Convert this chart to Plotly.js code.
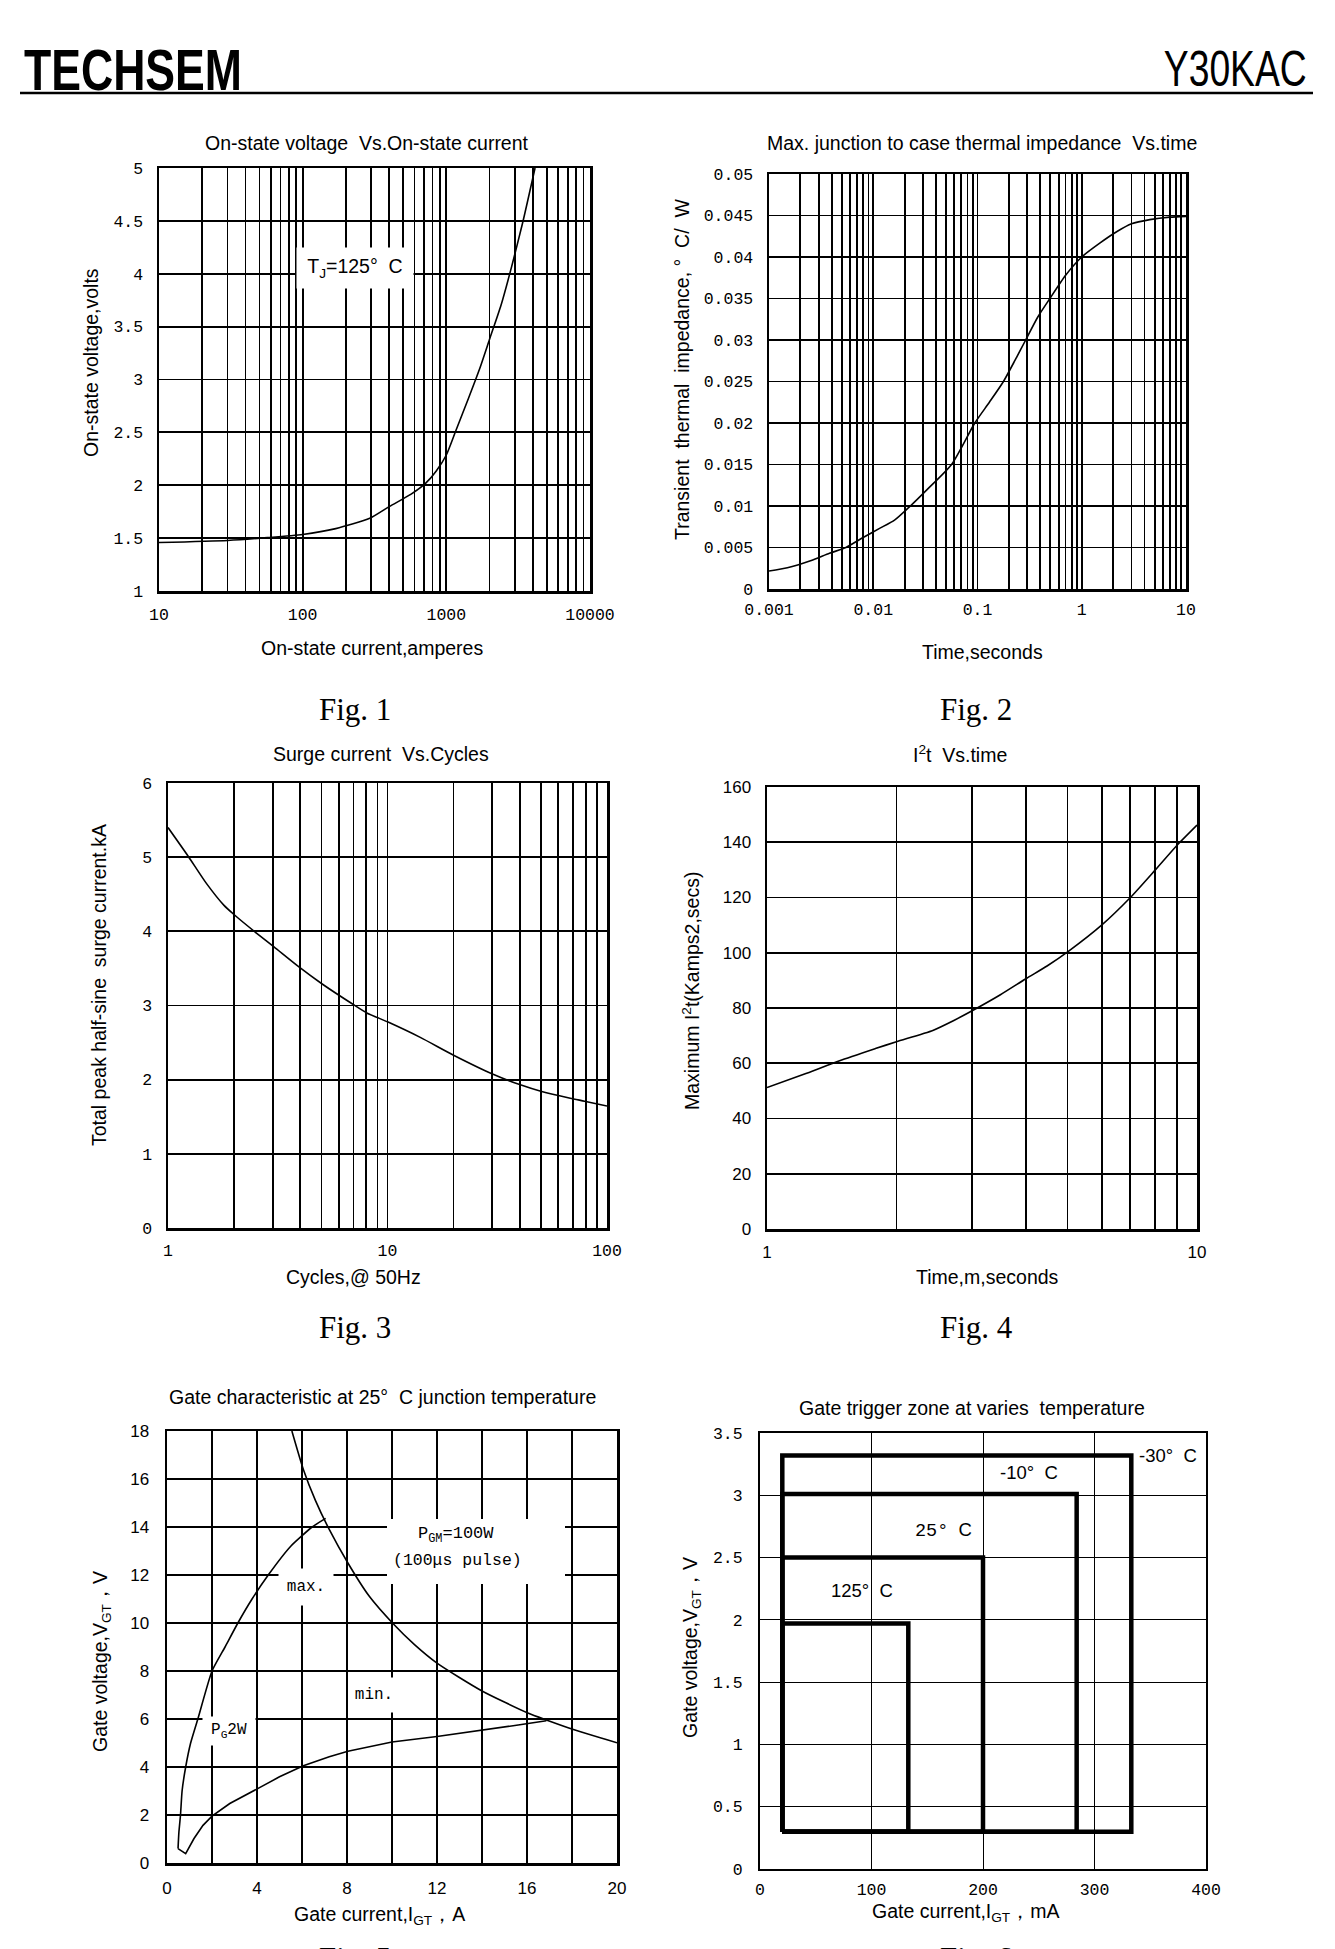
<!DOCTYPE html>
<html>
<head>
<meta charset="utf-8">
<script src="https://cdn.plot.ly/plotly-3.0.1.min.js"></script>
<style>html,body{margin:0;padding:0;background:#fff;}#chart{width:1335px;height:1949px;}</style>
</head>
<body>
<div id="chart"></div>
<script>
// ---------------- DATA ----------------
// Fig.1 On-state voltage vs on-state current (Tj=125 C)
const onStateCurrent = [10, 30, 57, 100, 170, 293, 403, 569, 716, 851, 1000, 1168, 1429, 1698, 2018, 2399, 2851, 3388, 4144];
const onStateVoltage = [1.458, 1.478, 1.505, 1.535, 1.59, 1.687, 1.80, 1.916, 2.017, 2.135, 2.286, 2.52, 2.825, 3.094, 3.397, 3.70, 4.07, 4.475, 5.0];
const fig1XTicks = [10, 100, 1000, 10000];
const fig1XLabels = ['10', '100', '1000', '10000'];
const fig1YTicks = [1, 1.5, 2, 2.5, 3, 3.5, 4, 4.5, 5];
const fig1YLabels = ['1', '1.5', '2', '2.5', '3', '3.5', '4', '4.5', '5'];

// Fig.2 Transient thermal impedance vs time
const thermalTime = [0.001, 0.0015, 0.0025, 0.0038, 0.00547, 0.008, 0.0115, 0.016, 0.0227, 0.033, 0.0564, 0.0942, 0.13, 0.1774, 0.23, 0.29, 0.38, 0.495, 0.7, 1.0, 1.5, 2.2, 3.0, 4.5, 7, 10];
const thermalZ = [0.00216, 0.00255, 0.0034, 0.0043, 0.005, 0.0062, 0.0073, 0.0083, 0.01, 0.012, 0.015, 0.02, 0.0225, 0.025, 0.0276, 0.03, 0.0328, 0.035, 0.0378, 0.04, 0.0417, 0.0431, 0.044, 0.0445, 0.0448, 0.0449];
const fig2XTicks = [0.001, 0.01, 0.1, 1, 10];
const fig2XLabels = ['0.001', '0.01', '0.1', '1', '10'];
const fig2YTicks = [0, 0.005, 0.01, 0.015, 0.02, 0.025, 0.03, 0.035, 0.04, 0.045, 0.05];
const fig2YLabels = ['0', '0.005', '0.01', '0.015', '0.02', '0.025', '0.03', '0.035', '0.04', '0.045', '0.05'];

// Fig.3 Surge current vs cycles
const surgeCycles = [1, 1.238, 1.493, 1.80, 2.01, 2.52, 3.04, 3.95, 5.04, 6.93, 8.05, 10, 14.1, 20, 29.9, 40.3, 50.4, 68, 79, 100];
const surgeCurrent = [5.40, 5.01, 4.65, 4.35, 4.22, 3.98, 3.79, 3.52, 3.29, 3.02, 2.90, 2.78, 2.57, 2.33, 2.08, 1.93, 1.84, 1.75, 1.71, 1.645];
const fig3XTicks = [1, 10, 100];
const fig3XLabels = ['1', '10', '100'];
const fig3YTicks = [0, 1, 2, 3, 4, 5, 6];
const fig3YLabels = ['0', '1', '2', '3', '4', '5', '6'];

// Fig.4 I2t vs time
const i2tTime = [1, 1.218, 1.475, 1.787, 2.0, 2.43, 2.72, 3.0, 3.49, 4.0, 4.48, 5.03, 6.0, 7.0, 8.0, 9.0, 10];
const i2tValue = [51.2, 56.0, 60.9, 65.3, 67.8, 71.9, 75.5, 79.0, 84.8, 90.6, 95.2, 100.6, 110.0, 120.0, 130.0, 139.0, 146.2];
const fig4XTicks = [1, 10];
const fig4XLabels = ['1', '10'];
const fig4YTicks = [0, 20, 40, 60, 80, 100, 120, 140, 160];
const fig4YLabels = ['0', '20', '40', '60', '80', '100', '120', '140', '160'];

// Fig.5 Gate characteristic at 25 C
const maxCurrent = [0.49, 0.53, 0.6, 0.67, 0.83, 1.05, 1.37, 2.0, 2.58, 3.15, 3.78, 4.5, 5.5, 6.45, 7.05];
const maxVoltage = [0.6, 1.3, 2.0, 3.0, 4.0, 5.0, 6.0, 8.0, 9.0, 10.0, 11.0, 12.0, 13.2, 14.0, 14.36];
const minCurrent = [0.49, 0.83, 1.2, 1.6, 2.0, 2.79, 4.03, 5.0, 6.06, 7.21, 8.04, 10.0, 12.0, 13.8, 15.46, 16.86];
const minVoltage = [0.6, 0.39, 1.02, 1.57, 1.95, 2.48, 3.1, 3.59, 4.05, 4.43, 4.66, 5.04, 5.27, 5.50, 5.73, 5.93];
const pgmCurrent = [5.55, 6.06, 6.6, 7.21, 8.04, 9.0, 10.02, 11.0, 12.0, 13.98, 16.04, 16.86, 18.1, 20];
const pgmVoltage = [18, 16.4, 15.1, 13.9, 12.5, 11.1, 10.0, 9.1, 8.33, 7.18, 6.25, 5.96, 5.55, 5.01];
const fig5XTicks = [0, 4, 8, 12, 16, 20];
const fig5XLabels = ['0', '4', '8', '12', '16', '20'];
const fig5XGrid = [2, 6, 10, 14, 18];
const fig5YTicks = [0, 2, 4, 6, 8, 10, 12, 14, 16, 18];
const fig5YLabels = ['0', '2', '4', '6', '8', '10', '12', '14', '16', '18'];

// Fig.6 Gate trigger zones
const zoneNames = ['-30°  C', '-10°  C', '25°  C', '125°  C'];
const zoneIMin = [20, 20, 20, 20];
const zoneIMax = [333, 284, 200, 133];
const zoneVMin = [0.3, 0.3, 0.3, 0.3];
const zoneVMax = [3.32, 3.01, 2.5, 1.97];
const fig6XTicks = [0, 100, 200, 300, 400];
const fig6XLabels = ['0', '100', '200', '300', '400'];
const fig6YTicks = [0, 0.5, 1, 1.5, 2, 2.5, 3, 3.5];
const fig6YLabels = ['0', '0.5', '1', '1.5', '2', '2.5', '3', '3.5'];

// ---------------- LAYOUT HELPERS ----------------
const W = 1335, H = 1949;
const SANS = 'Liberation Sans, Arial, sans-serif';
const SERIF = 'Liberation Serif, Times New Roman, serif';
const MONO = 'Liberation Mono, DejaVu Sans Mono, monospace';

function xdom(a, b) { return [a / W, b / W]; }
function ydom(top, bottom) { return [1 - bottom / H, 1 - top / H]; }

// log-axis minor grid: every digit of each decade between majors
function logMinor(lo, hi) {
  const vals = [];
  for (let d = lo; d < hi; d++) {
    for (let m = 2; m < 10; m++) vals.push(parseFloat((m * Math.pow(10, d)).toPrecision(6)));
  }
  return vals;
}

const GRIDW = 1.8;
function axis(opts, gridw) {
  const gw = gridw || GRIDW;
  return Object.assign({
    showline: true, mirror: true, linecolor: '#000', linewidth: 2.5,
    showgrid: true, gridcolor: '#000', gridwidth: gw,
    zeroline: false, ticks: '', tickmode: 'array',
    fixedrange: true, automargin: false
  }, opts);
}
function minorGrid(vals, gridw) {
  return { tickmode: 'array', tickvals: vals, showgrid: true, gridcolor: '#000', gridwidth: gridw || GRIDW, ticks: '' };
}

function ann(text, x, y, font, extra) {
  return Object.assign({
    text, x: x / W, y: 1 - y / H, xref: 'paper', yref: 'paper',
    showarrow: false, xanchor: 'center', yanchor: 'middle',
    font: Object.assign({ family: SANS, size: 19.5, color: '#000' }, font || {})
  }, extra || {});
}
// white masking box (in pixels) behind an in-plot label
function mask(x0, y0, x1, y1) {
  return { type: 'rect', xref: 'paper', yref: 'paper', x0: x0 / W, x1: x1 / W, y0: 1 - y1 / H, y1: 1 - y0 / H,
    fillcolor: '#fff', line: { width: 0 }, layer: 'above' };
}

const lineStyle = { color: '#000', width: 1.6 };

// ---------------- TRACES ----------------
const traces = [
  { x: onStateCurrent, y: onStateVoltage, xaxis: 'x', yaxis: 'y', type: 'scatter', mode: 'lines', line: Object.assign({ shape: 'spline', smoothing: 0.6 }, lineStyle) },
  { x: thermalTime, y: thermalZ, xaxis: 'x2', yaxis: 'y2', type: 'scatter', mode: 'lines', line: Object.assign({ shape: 'spline', smoothing: 0.6 }, lineStyle) },
  { x: surgeCycles, y: surgeCurrent, xaxis: 'x3', yaxis: 'y3', type: 'scatter', mode: 'lines', line: Object.assign({ shape: 'spline', smoothing: 0.6 }, lineStyle) },
  { x: i2tTime, y: i2tValue, xaxis: 'x4', yaxis: 'y4', type: 'scatter', mode: 'lines', line: Object.assign({ shape: 'spline', smoothing: 0.6 }, lineStyle) },
  { x: maxCurrent, y: maxVoltage, xaxis: 'x5', yaxis: 'y5', type: 'scatter', mode: 'lines', line: Object.assign({ shape: 'spline', smoothing: 0.5 }, lineStyle) },
  { x: minCurrent, y: minVoltage, xaxis: 'x5', yaxis: 'y5', type: 'scatter', mode: 'lines', line: Object.assign({ shape: 'linear' }, lineStyle) },
  { x: pgmCurrent, y: pgmVoltage, xaxis: 'x5', yaxis: 'y5', type: 'scatter', mode: 'lines', line: Object.assign({ shape: 'spline', smoothing: 0.6 }, lineStyle) }
];
for (let i = 0; i < zoneNames.length; i++) {
  traces.push({
    x: [zoneIMin[i], zoneIMax[i], zoneIMax[i], zoneIMin[i], zoneIMin[i]],
    y: [zoneVMin[i], zoneVMin[i], zoneVMax[i], zoneVMax[i], zoneVMin[i]],
    xaxis: 'x6', yaxis: 'y6', type: 'scatter', mode: 'lines', name: zoneNames[i],
    line: { color: '#000', width: 4.5 }
  });
}

// ---------------- AXES ----------------
const monoTick = { family: MONO, size: 16.5, color: '#000' };
const sansTick = { family: SANS, size: 17, color: '#000' };

const layout = {
  width: W, height: H,
  margin: { l: 0, r: 0, t: 0, b: 0 },
  paper_bgcolor: '#fff', plot_bgcolor: '#fff',
  showlegend: false, hovermode: false,
  xaxis: axis({ domain: xdom(159, 590), anchor: 'y', type: 'log', range: [1, 4], tickvals: fig1XTicks, ticktext: fig1XLabels, tickfont: monoTick, ticklabelstandoff: 7, minor: minorGrid(logMinor(1, 4)) }),
  yaxis: axis({ domain: ydom(168, 591), anchor: 'x', range: [1, 5], tickvals: fig1YTicks, ticktext: fig1YLabels, tickfont: monoTick, ticklabelstandoff: 10 }),
  xaxis2: axis({ domain: xdom(769, 1186), anchor: 'y2', type: 'log', range: [-3, 1], tickvals: fig2XTicks, ticktext: fig2XLabels, tickfont: monoTick, ticklabelstandoff: 4, minor: minorGrid(logMinor(-3, 1)) }),
  yaxis2: axis({ domain: ydom(174, 589), anchor: 'x2', range: [0, 0.05], tickvals: fig2YTicks, ticktext: fig2YLabels, tickfont: monoTick, ticklabelstandoff: 10 }),
  xaxis3: axis({ domain: xdom(168, 607), anchor: 'y3', type: 'log', range: [0, 2], tickvals: fig3XTicks, ticktext: fig3XLabels, tickfont: monoTick, ticklabelstandoff: 6, minor: minorGrid(logMinor(0, 2)) }),
  yaxis3: axis({ domain: ydom(783, 1228), anchor: 'x3', range: [0, 6], tickvals: fig3YTicks, ticktext: fig3YLabels, tickfont: monoTick, ticklabelstandoff: 10 }),
  xaxis4: axis({ domain: xdom(767, 1197), anchor: 'y4', type: 'log', range: [0, 1], tickvals: fig4XTicks, ticktext: fig4XLabels, tickfont: sansTick, ticklabelstandoff: 6, minor: minorGrid(logMinor(0, 1)) }),
  yaxis4: axis({ domain: ydom(787, 1229), anchor: 'x4', range: [0, 160], tickvals: fig4YTicks, ticktext: fig4YLabels, tickfont: sansTick, ticklabelstandoff: 10 }),
  xaxis5: axis({ domain: xdom(167, 617), anchor: 'y5', range: [0, 20], tickvals: fig5XTicks, ticktext: fig5XLabels, tickfont: sansTick, ticklabelstandoff: 8, minor: minorGrid(fig5XGrid) }),
  yaxis5: axis({ domain: ydom(1431, 1863), anchor: 'x5', range: [0, 18], tickvals: fig5YTicks, ticktext: fig5YLabels, tickfont: sansTick, ticklabelstandoff: 12 }),
  xaxis6: axis({ domain: xdom(760, 1206), anchor: 'y6', range: [0, 400], tickvals: fig6XTicks, ticktext: fig6XLabels, tickfont: monoTick, ticklabelstandoff: 4, linewidth: 2 }, 1),
  yaxis6: axis({ domain: ydom(1433, 1869), anchor: 'x6', range: [0, 3.5], tickvals: fig6YTicks, ticktext: fig6YLabels, tickfont: monoTick, ticklabelstandoff: 12, linewidth: 2 }, 1),
  shapes: [
    { type: 'line', xref: 'paper', yref: 'paper', x0: 20 / W, x1: 1313 / W, y0: 1 - 93 / H, y1: 1 - 93 / H, line: { color: '#000', width: 2.5 } },
    mask(387, 1519, 565, 1584)
  ],
  annotations: []
};

const A = layout.annotations;
// header
A.push(ann('<b>TECHSEM</b>', 22, 69, { family: SANS, size: 58 }, { xanchor: 'left' }));
A.push(ann('Y30KAC', 1309, 69, { family: SANS, size: 50 }, { xanchor: 'right' }));

// Fig.1
A.push(ann('On-state voltage  Vs.On-state current', 367, 143));
A.push(ann('On-state current,amperes', 372, 648));
A.push(ann('On-state voltage,volts', 91, 363, {}, { textangle: -90 }));
A.push(ann('Fig. 1', 355, 710, { family: SERIF, size: 31 }));
A.push(ann('T<sub>J</sub>=125°  C', 355, 268, {}, { bgcolor: '#fff', width: 114, height: 38 }));

// Fig.2
A.push(ann('Max. junction to case thermal impedance  Vs.time', 982, 143));
A.push(ann('Time,seconds', 982, 652));
A.push(ann('Transient  thermal  impedance, °  C/  W', 682, 370, {}, { textangle: -90 }));
A.push(ann('Fig. 2', 976, 710, { family: SERIF, size: 31 }));

// Fig.3
A.push(ann('Surge current  Vs.Cycles', 381, 754));
A.push(ann('Cycles,@ 50Hz', 353, 1277));
A.push(ann('Total peak half-sine  surge current.kA', 99, 985, {}, { textangle: -90 }));
A.push(ann('Fig. 3', 355, 1327, { family: SERIF, size: 31 }));

// Fig.4
A.push(ann('I<sup>2</sup>t  Vs.time', 960, 754));
A.push(ann('Time,m,seconds', 987, 1277));
A.push(ann('Maximum I<sup>2</sup>t(Kamps2,secs)', 691, 991, {}, { textangle: -90 }));
A.push(ann('Fig. 4', 976, 1327, { family: SERIF, size: 31 }));

// Fig.5
A.push(ann('Gate characteristic at 25°  C junction temperature', 382, 1397));
A.push(ann('Gate current,I<sub>GT</sub>，A', 379, 1915));
A.push(ann('Gate voltage,V<sub>GT</sub>，V', 101, 1662, {}, { textangle: -90 }));
A.push(ann('Fig. 5', 355, 1958, { family: SERIF, size: 31 }));
A.push(ann('P<sub>GM</sub>=100W', 456, 1535, { family: MONO, size: 17 }));
A.push(ann('(100μs pulse)', 457, 1560, { family: MONO, size: 16.5 }));
A.push(ann('max.', 306, 1587, { family: MONO, size: 16 }, { bgcolor: '#fff', width: 52, height: 34 }));
A.push(ann('min.', 374, 1695, { family: MONO, size: 16 }, { bgcolor: '#fff', width: 44, height: 32 }));
A.push(ann('P<sub>G</sub>2W', 229, 1731, { family: MONO, size: 16 }, { bgcolor: '#fff', width: 50, height: 26 }));

// Fig.6
A.push(ann('Gate trigger zone at varies  temperature', 972, 1408));
A.push(ann('Gate current,I<sub>GT</sub>，mA', 966, 1912));
A.push(ann('Gate voltage,V<sub>GT</sub>，V', 691, 1648, {}, { textangle: -90 }));
A.push(ann('Fig. 6', 976, 1958, { family: SERIF, size: 31 }));
const zoneLabelPos = [[1137, 1455], [1029, 1472], [943, 1530], [862, 1590]];
for (let i = 0; i < zoneNames.length; i++) {
  let txt = zoneNames[i];
  if (i === 2) txt = '<span style="font-family:Liberation Mono">25°</span>  C';
  A.push(ann(txt, zoneLabelPos[i][0], zoneLabelPos[i][1], { size: 18.5 }, i === 0 ? { xanchor: 'left' } : {}));
}

Plotly.newPlot('chart', traces, layout, { displayModeBar: false, staticPlot: true }).then(function (gd) {
  // condense the header lettering horizontally (datasheet's narrow look), pinned at its outer edge
  const fit = { 'TECHSEM': [218, -1], 'Y30KAC': [143, 1] };
  gd.querySelectorAll('text.annotation-text').forEach(function (t) {
    const key = t.textContent.trim();
    if (fit[key]) {
      const target = fit[key][0], dir = fit[key][1];
      const orig = t.getComputedTextLength();
      const x = parseFloat(t.getAttribute('x')) || 0;
      const pin = x + dir * orig / 2;          // text-anchor is middle: pin the outer edge
      const s = target / orig;
      const prev = t.getAttribute('transform') || '';
      t.setAttribute('transform', prev + ' translate(' + pin + ',0) scale(' + s + ',1) translate(' + (-pin) + ',0)');
    }
  });
});
</script>
</body>
</html>
